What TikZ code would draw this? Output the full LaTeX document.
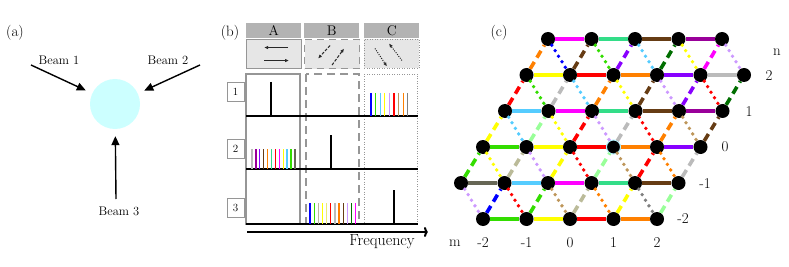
\documentclass[tikz,border=0pt]{standalone}
\usepackage{tikz}
\usetikzlibrary{arrows.meta,positioning}
\definecolor{SpotCyan}{RGB}{204,255,255}
\definecolor{HdGray}{RGB}{179,179,179}
\definecolor{IconFill}{RGB}{230,230,230}
\definecolor{BoxGray}{RGB}{150,150,150}
\definecolor{IconInk}{RGB}{40,40,40}
\definecolor{LMagenta}{RGB}{255,0,255}
\definecolor{LSeafoam}{RGB}{51,221,136}
\definecolor{LBrown}{RGB}{102,60,20}
\definecolor{LPurple}{RGB}{153,0,153}
\definecolor{LYellow}{RGB}{255,255,0}
\definecolor{LPale}{RGB}{235,235,120}
\definecolor{LRed}{RGB}{255,0,0}
\definecolor{LOrange}{RGB}{255,128,0}
\definecolor{LViolet}{RGB}{136,0,255}
\definecolor{LSilver}{RGB}{187,187,187}
\definecolor{LSky}{RGB}{85,204,255}
\definecolor{LGreen}{RGB}{51,221,0}
\definecolor{LDarkGreen}{RGB}{0,110,0}
\definecolor{LBlue}{RGB}{0,0,255}
\definecolor{LLavender}{RGB}{204,153,255}
\definecolor{LTan}{RGB}{190,150,90}
\definecolor{LMint}{RGB}{153,255,153}
\definecolor{LBeige}{RGB}{187,187,153}
\definecolor{LSlate}{RGB}{102,102,85}
\definecolor{LGray}{RGB}{128,128,128}

\begin{document}
\begin{tikzpicture}[x=1pt, y=-1pt,
    panellbl/.style={font=\fontsize{15}{17}\selectfont, inner sep=0pt},
    beamlbl/.style={font=\fontsize{12.5}{14}\selectfont, inner sep=0pt},
    spot/.style={circle, fill=SpotCyan, minimum size=50pt, inner sep=0pt},
    beam/.style={-{Triangle[length=9pt,width=8pt]}, line width=1.4pt, shorten >=7pt},
    hdbox/.style={fill=HdGray, minimum width=55pt, minimum height=15pt, inner sep=0pt, anchor=north west, font=\fontsize{14}{16}\selectfont},
    iconbox/.style={fill=IconFill, draw=BoxGray, line width=1.1pt, minimum width=55pt, minimum height=29pt, inner sep=0pt, anchor=north west},
    iconarrow/.style={-{Latex[length=4pt,width=3.5pt]}, line width=1pt, draw=IconInk},
    rowbox/.style={draw=BoxGray, line width=0.9pt, minimum width=17pt, minimum height=19pt, inner sep=0pt, font=\fontsize{11}{13}\selectfont},
    colframe/.style={draw=BoxGray, line width=1.2pt},
    axisline/.style={line width=1.3pt},
    peak/.style={line width=1.3pt},
    comb/.style={line width=1.3pt},
    site/.style={circle, fill=black, minimum size=14pt, inner sep=0pt},
    hedge/.style={line width=3.6pt},
    dashedge/.style={line width=3.6pt, dash pattern=on 8pt off 5pt},
    dotedge/.style={line width=3.8pt, line cap=round, dash pattern=on 0pt off 6.5pt},
    latlbl/.style={font=\fontsize{15}{17}\selectfont, inner sep=0pt}
  ]
    \useasboundingbox (0,0) rectangle (789,267);

    % (a) three beams on the spot
    \node[panellbl] (la) at (15,33) {(a)};
    \node[spot] (spot) at (115,104) {};
    \coordinate (b1) at (31,65);
    \coordinate (b2) at (200,65);
    \coordinate (b3) at (116,199);
    \foreach \b in {b1,b2,b3} {\draw[beam] (\b) -- (spot);}
    \node[beamlbl] (lb1) at (59,60) {Beam 1};
    \node[beamlbl] (lb2) at (168,60) {Beam 2};
    \node[beamlbl] (lb3) at (119,211) {Beam 3};

    % (b) spectra
    \node[panellbl] (lbb) at (230,33) {(b)};
    \node[hdbox] (hdA) at (246,23) {A};
    \node[hdbox] (hdB) at (304,23) {B};
    \node[hdbox] (hdC) at (364,23) {C};
    \node[iconbox] (icA) at (246,39) {};
    \node[iconbox, dash pattern=on 7pt off 5pt] (icB) at (304,39) {};
    \node[iconbox, line width=0.9pt, dash pattern=on 1pt off 1.5pt] (icC) at (364,39) {};
    \draw[iconarrow] ([xshift=14pt,yshift=6.5pt]icA.center) -- ([xshift=-10pt,yshift=6.5pt]icA.center);
    \draw[iconarrow] ([xshift=-10pt,yshift=-6.5pt]icA.center) -- ([xshift=15pt,yshift=-6.5pt]icA.center);
    \draw[iconarrow, dash pattern=on 3pt off 1.5pt] ([xshift=-2pt,yshift=8.5pt]icB.center) -- ([xshift=-14pt,yshift=-4.5pt]icB.center);
    \draw[iconarrow, dash pattern=on 3pt off 1.5pt] ([xshift=0pt,yshift=-11pt]icB.center) -- ([xshift=12pt,yshift=5.5pt]icB.center);
    \draw[iconarrow, dash pattern=on 1pt off 1.3pt] ([xshift=-17pt,yshift=5.5pt]icC.center) -- ([xshift=-5pt,yshift=-12.5pt]icC.center);
    \draw[iconarrow, dash pattern=on 1pt off 1.3pt] ([xshift=10pt,yshift=-6.5pt]icC.center) -- ([xshift=-3pt,yshift=10.5pt]icC.center);

    \draw[colframe] (246,74) rectangle (300,224);
    \draw[colframe, dash pattern=on 8pt off 5pt] (306,74) rectangle (359,224);
    \draw[colframe, line width=0.9pt, dash pattern=on 1pt off 1.5pt] (364,74) rectangle (417,224);
    \foreach \y in {116,169,224} {\draw[axisline] (246,\y) -- (418,\y);}

    \node[rowbox] (row1) at (235.5,91.5) {1};
    \node[rowbox] (row2) at (235.5,149) {2};
    \node[rowbox] (row3) at (235.5,208) {3};

    \draw[peak] (271,82) -- (271,116);
    \draw[peak] (331,135) -- (331,169);
    \draw[peak] (394,190) -- (394,224);
    \foreach \c [count=\i from 0] in {LBlue,LGreen,LSky,LYellow,LLavender,LRed,LTan,LOrange,LGray}
      {\draw[comb,\c] ({371+4.6*\i},93) -- ++(0,23);}
    \foreach \c [count=\i from 0] in {LSilver,LPurple,LViolet,LBrown,LOrange,LSeafoam,LRed,LMagenta,LYellow,LSky,LGreen,LSlate}
      {\draw[comb,\c] ({252+3.9*\i},149) -- ++(0,20);}
    \foreach \c [count=\i from 0] in {LBlue,LGreen,LBeige,LYellow,LPale,LRed,LSilver,LOrange,LBrown,LLavender,LDarkGreen,LMagenta}
      {\draw[comb,\c] ({310+4.15*\i},203) -- ++(0,21);}

    \coordinate (f0) at (247,232);
    \coordinate (f1) at (428,232);
    \draw[line width=2pt, -{To[length=4pt,width=10pt]}] (f0) -- (f1);
    \node[font=\fontsize{16}{18}\selectfont, inner sep=0pt, anchor=base] (freq) at (382,245.5) {Frequency};

    % (c) synthetic lattice
    \node[panellbl] (lc) at (499,33) {(c)};
    \foreach \r/\y/\xs/\nn in {0/219/483/4, 1/183/461/5, 2/147/483/5, 3/111/505/5, 4/75/526.5/5, 5/39/548/4}
      \foreach \c in {0,...,\nn}
        {\node[site] (v\r-\c) at ({\xs+43.5*\c},\y) {};}
    \node[site, draw=SpotCyan!80!LSky, line width=1pt] at (v2-3) {};

    \foreach \r/\cols in {0/{LGreen,LYellow,LRed,LOrange}, 1/{LSlate,LSky,LMagenta,LSeafoam,LBrown},
        2/{LGreen,LYellow,LRed,LOrange,LViolet}, 3/{LSky,LMagenta,LSeafoam,LBrown,LPurple},
        4/{LYellow,LRed,LOrange,LViolet,LSilver}, 5/{LMagenta,LSeafoam,LBrown,LPurple}} {
      \foreach \col [count=\c from 0] in \cols {
        \pgfmathtruncatemacro\cn{\c+1}
        \draw[hedge,\col] (v\r-\c) -- (v\r-\cn);
      }
    }
    % dashed: lower (r,c) to upper (r+1,c+s)
    \foreach \r/\s/\cols in {0/1/{LBlue,LGreen,LBeige,LYellow,LMint}, 1/0/{LGreen,LBeige,LYellow,LMint,LRed,LSilver},
        2/0/{LYellow,LMint,LRed,LSilver,LOrange,LBrown}, 3/0/{LRed,LSilver,LOrange,LBrown,LViolet,LDarkGreen},
        4/0/{LOrange,LBrown,LViolet,LDarkGreen,LMagenta}} {
      \pgfmathtruncatemacro\up{\r+1}
      \foreach \col [count=\c from 0] in \cols {
        \pgfmathtruncatemacro\cu{\c+\s}
        \draw[dashedge,\col] (v\r-\c) -- (v\up-\cu);
      }
    }
    % dotted: upper (r+1,c) to lower (r,c+1-s)
    \foreach \r/\s/\cols in {0/1/{LLavender,LRed,LTan,LOrange,LGray}, 1/0/{LYellow,LLavender,LRed,LTan,LOrange},
        2/0/{LSky,LYellow,LLavender,LRed,LTan}, 3/0/{LGreen,LSky,LYellow,LLavender,LRed},
        4/0/{LBlue,LGreen,LSky,LYellow,LLavender}} {
      \pgfmathtruncatemacro\up{\r+1}
      \foreach \col [count=\c from 0] in \cols {
        \pgfmathtruncatemacro\cd{\c+1-\s}
        \draw[dotedge,\col] (v\up-\c) -- (v\r-\cd);
      }
    }

    \node[latlbl] (nlab) at (777,52) {n};
    \foreach \t/\x/\y [count=\k] in {2/769/76, 1/749/112, 0/725/147, -1/705/184, -2/683/219}
      {\node[latlbl] (nl\k) at (\x,\y) {\t};}
    \node[latlbl] (mlab) at (455,243) {m};
    \foreach \t [count=\k from 0] in {-2,-1,0,1,2}
      {\node[latlbl] (ml\k) at ({483+43.5*\k},243) {\t};}
  \end{tikzpicture}
\end{document}
